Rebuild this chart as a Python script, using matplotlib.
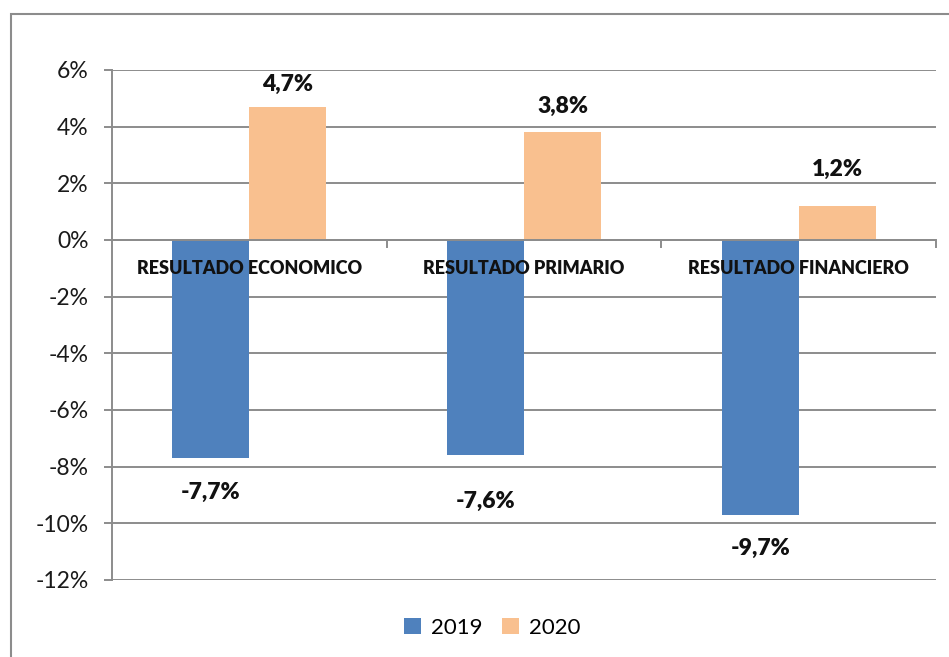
import matplotlib
matplotlib.use("Agg")
import matplotlib.pyplot as plt
import numpy as np
from matplotlib.patches import Rectangle
from matplotlib.ticker import FuncFormatter

plt.rcParams['font.family'] = ['Lato', 'DejaVu Sans']

categories = ["RESULTADO ECONOMICO", "RESULTADO PRIMARIO", "RESULTADO FINANCIERO"]
series_names = ["2019", "2020"]
values_2019 = [-7.7, -7.6, -9.7]
values_2020 = [4.7, 3.8, 1.2]
labels_2019 = ["-7,7%", "-7,6%", "-9,7%"]
labels_2020 = ["4,7%", "3,8%", "1,2%"]
yticks = [6, 4, 2, 0, -2, -4, -6, -8, -10, -12]

c2019 = "#4F81BD"
c2020 = "#F9C08F"

fig = plt.figure(figsize=(9.49, 6.57), dpi=100)
ax = fig.add_axes([112/949, 1-580/657, (936-112)/949, (580-70)/657])

x = np.arange(len(categories))
w = 0.28
b1 = ax.bar(x - w/2, values_2019, w, color=c2019, label=series_names[0], zorder=3)
b2 = ax.bar(x + w/2, values_2020, w, color=c2020, label=series_names[1], zorder=3)

ax.set_xlim(-0.5, 2.5)
ax.set_ylim(-12, 6)
ax.set_yticks(yticks)
ax.yaxis.set_major_formatter(FuncFormatter(lambda v, p: f"{int(v)}%"))
ax.grid(axis='y', color='#8c8c8c', linewidth=1.4, zorder=0)
ax.set_axisbelow(True)
for s in ['top', 'right', 'bottom']:
    ax.spines[s].set_visible(False)
ax.spines['left'].set_color('#8c8c8c')
ax.spines['left'].set_linewidth(1.4)
ax.tick_params(axis='y', length=6, width=1.4, color='#8c8c8c', labelsize=16.5, pad=11, labelcolor='#1a1a1a')
ax.set_xticks([])

# zero axis line and category boundary ticks
ax.axhline(0, color='#8c8c8c', linewidth=1.4, zorder=4)
for b in [0.5, 1.5, 2.5]:
    ax.plot([b, b], [0, -0.25], color='#8c8c8c', linewidth=1.4, zorder=4, clip_on=False)

# category labels just below zero line
for xi, c in zip(x, categories):
    ax.text(xi, -1.0, c, ha='center', va='center', fontsize=13, fontweight='heavy', color='#111111', zorder=5)

# data labels (offsets in points)
off_2019 = [-25, -33, -24]
off_2020 = [16, 19, 26]
for xi, v, l, o in zip(x, values_2019, labels_2019, off_2019):
    ax.annotate(l, (xi - w/2, v), xytext=(0, o), textcoords='offset points', ha='center', va='center',
                fontsize=16.5, fontweight='heavy', color='#111111')
for xi, v, l, o in zip(x, values_2020, labels_2020, off_2020):
    ax.annotate(l, (xi + w/2, v), xytext=(0, o), textcoords='offset points', ha='center', va='center',
                fontsize=16.5, fontweight='heavy', color='#111111')

leg = fig.legend(handles=[b1, b2], labels=series_names, loc='center', bbox_to_anchor=(492/949, 1-628/657),
                 ncol=2, frameon=False, fontsize=16, handlelength=0.75, handleheight=0.75,
                 handletextpad=0.45, columnspacing=0.9)

# outer frame
fig.patches.append(Rectangle((10.5/949, -0.1), 1.2, 1-14/657 + 0.1, transform=fig.transFigure,
                             fill=False, edgecolor='#8c8c8c', linewidth=1.5, clip_on=False))

fig.savefig("out.png", dpi=100)
